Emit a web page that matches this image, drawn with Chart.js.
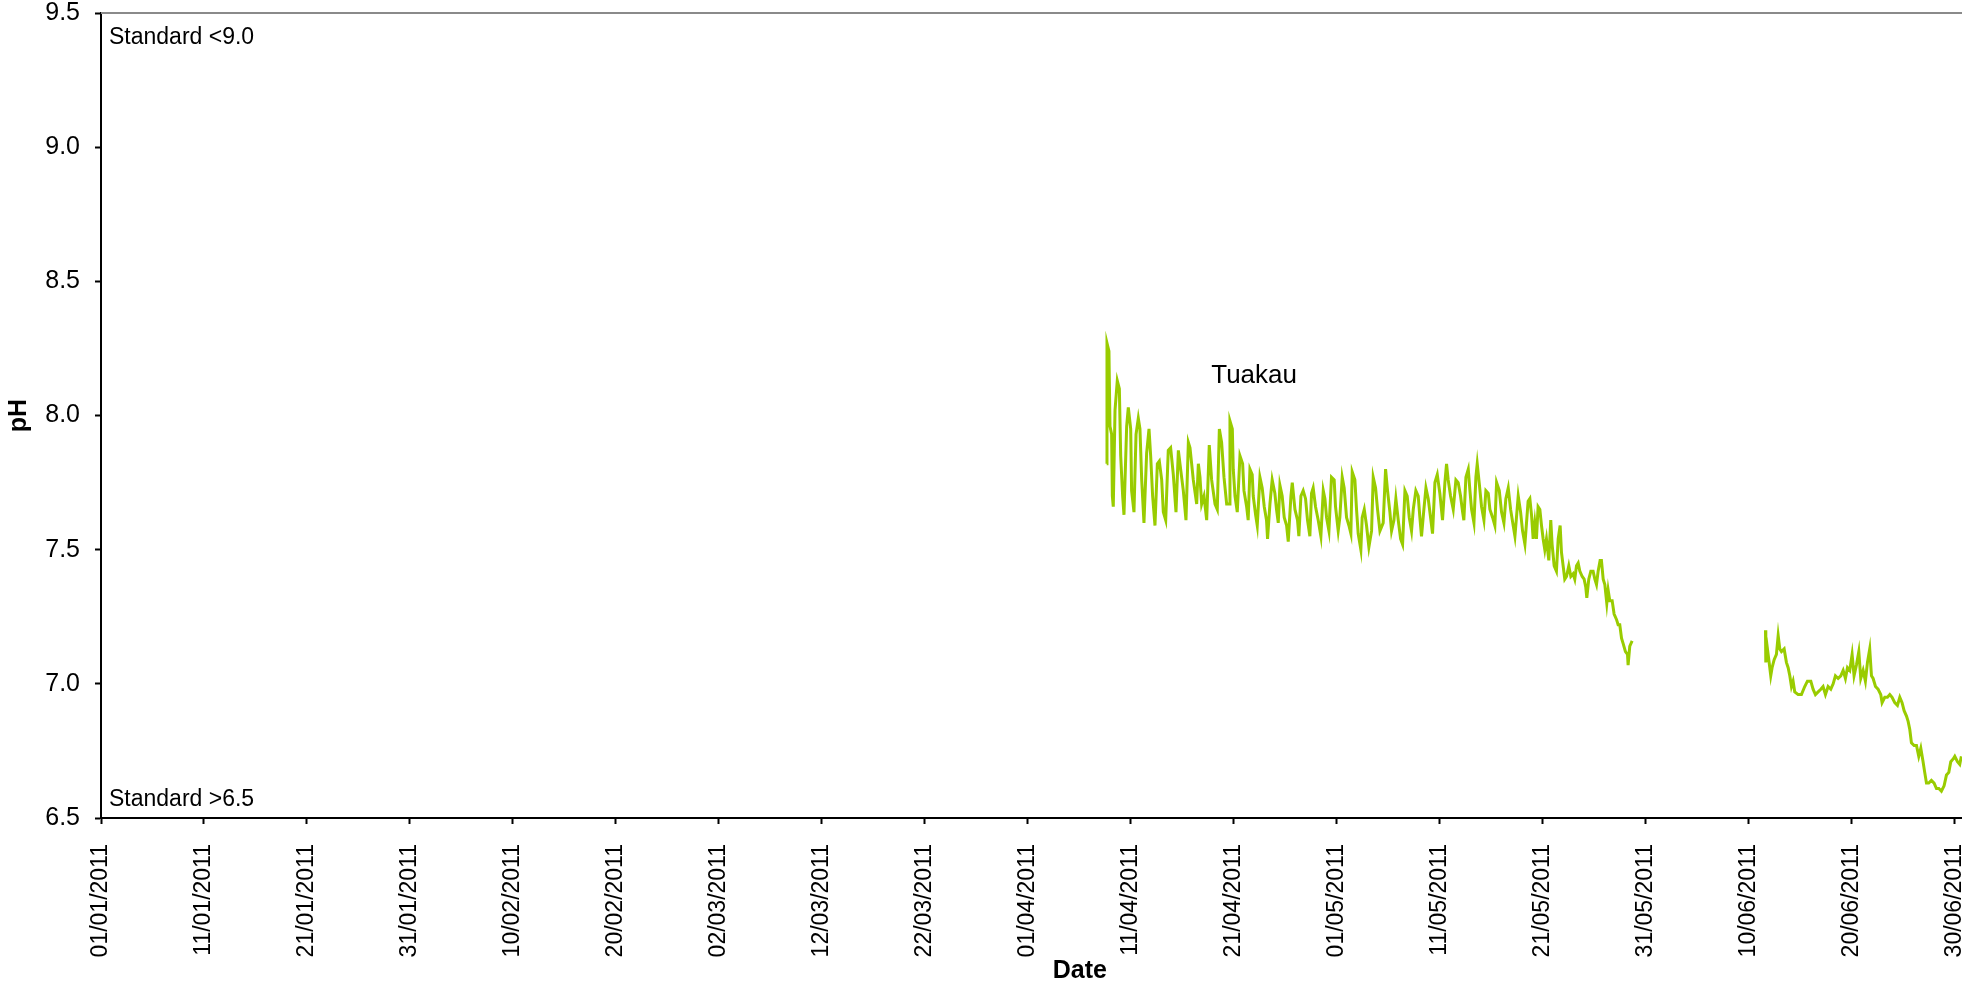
<!DOCTYPE html>
<html>
<head>
<meta charset="utf-8">
<title>Tuakau pH</title>
<script src="https://cdn.jsdelivr.net/npm/chart.js@4.4.1/dist/chart.umd.min.js"></script>
<style>
  html, body { margin: 0; padding: 0; background: #ffffff; overflow: hidden; }
  #wrap { position: relative; width: 1962px; height: 987px; }
</style>
</head>
<body>
<div id="wrap"><canvas id="chart" width="1962" height="987"></canvas></div>
<script>
// Days are counted from 01/01/2011 (day 0); pH readings from the Tuakau sonde.
const tickDays = [0, 10, 20, 30, 40, 50, 60, 70, 80, 90, 100, 110, 120, 130, 140, 150, 160, 170, 180];
const tickLabels = ['01/01/2011', '11/01/2011', '21/01/2011', '31/01/2011', '10/02/2011', '20/02/2011',
  '02/03/2011', '12/03/2011', '22/03/2011', '01/04/2011', '11/04/2011', '21/04/2011', '01/05/2011',
  '11/05/2011', '21/05/2011', '31/05/2011', '10/06/2011', '20/06/2011', '30/06/2011'];
const phTicks = [6.5, 7.0, 7.5, 8.0, 8.5, 9.0, 9.5];

// April - May record
const aprMayDays = [
  97.65, 97.68, 97.87, 97.97, 98.13, 98.20, 98.29, 98.46, 98.68, 98.88, 99.01, 99.20, 99.33, 99.59, 99.75, 99.98,
  100.07, 100.30, 100.50, 100.72, 100.88, 101.05, 101.27, 101.53, 101.76, 101.92, 102.11, 102.34, 102.57, 102.76,
  102.99, 103.15, 103.38, 103.63, 103.86, 104.12, 104.38, 104.61, 104.83, 105.09, 105.35, 105.58, 105.74, 106.06,
  106.39, 106.55, 106.71, 106.87, 107.10, 107.36, 107.61, 107.84, 108.17, 108.39, 108.59, 108.81, 109.04, 109.30,
  109.56, 109.62, 109.85, 109.94, 110.11, 110.33, 110.59, 110.85, 110.98, 111.24,
  111.39, 111.56, 111.78, 111.88, 112.11, 112.27, 112.53, 112.75, 112.95, 113.17, 113.27, 113.50, 113.72, 113.98,
  114.14, 114.31, 114.47, 114.69, 114.89, 115.12, 115.28, 115.54, 115.67, 115.93, 116.18, 116.31, 116.51, 116.73,
  116.96, 117.15, 117.38, 117.54, 117.70, 117.93, 118.19, 118.45, 118.68, 118.84, 119.00, 119.23, 119.48, 119.74,
  119.87, 120.13, 120.29, 120.52, 120.71, 120.94, 121.17, 121.36, 121.49, 121.75, 121.91, 122.07, 122.33, 122.46,
  122.66, 122.88, 123.11, 123.37, 123.53, 123.76, 123.95, 124.18, 124.50, 124.73, 124.92, 125.15, 125.31,
  125.54, 125.73, 125.96, 126.19, 126.38, 126.61, 126.83, 127.03, 127.25, 127.42, 127.67, 127.90, 128.06, 128.22,
  128.45, 128.65, 128.87, 129.10, 129.29, 129.52, 129.75, 130.00, 130.26, 130.49, 130.65, 130.81, 131.04, 131.30,
  131.56, 131.78, 132.01, 132.21, 132.33, 132.53, 132.76, 132.92, 133.08, 133.31, 133.50, 133.63, 133.82, 134.05,
  134.28, 134.47, 134.70, 134.86, 135.12, 135.34, 135.51, 135.77, 135.99, 136.22, 136.41, 136.64, 136.87, 137.12,
  137.29, 137.61, 137.84, 138.03, 138.26,
  138.57, 138.74, 138.90, 139.06, 139.22, 139.38, 139.54, 139.71, 139.87, 140.03, 140.19, 140.35, 140.58, 140.77,
  140.90, 141.10, 141.32, 141.49, 141.68, 141.81, 141.97, 142.13, 142.30, 142.52, 142.72, 142.94, 143.10, 143.27,
  143.43, 143.59, 143.82, 144.01, 144.17, 144.27, 144.46, 144.66, 144.88, 145.05, 145.21, 145.37, 145.56, 145.69,
  145.86, 146.02, 146.21, 146.34, 146.50, 146.73, 146.92, 147.15, 147.31, 147.47, 147.64, 147.80, 148.02, 148.22,
  148.28, 148.44, 148.67
];
const aprMayPh = [
  7.82, 8.27, 8.24, 7.96, 7.93, 7.70, 7.66, 8.02, 8.13, 8.10, 7.85, 7.70, 7.63, 7.96, 8.03, 7.95,
  7.72, 7.64, 7.93, 7.99, 7.95, 7.76, 7.60, 7.86, 7.95, 7.85, 7.70, 7.59, 7.82, 7.83,
  7.76, 7.64, 7.61, 7.87, 7.88, 7.78, 7.64, 7.87, 7.80, 7.72, 7.61, 7.90, 7.88, 7.76,
  7.67, 7.82, 7.77, 7.67, 7.70, 7.61, 7.89, 7.76, 7.67, 7.65, 7.95, 7.90, 7.77, 7.67,
  7.67, 7.98, 7.95, 7.80, 7.70, 7.64, 7.85, 7.82, 7.72, 7.66,
  7.61, 7.80, 7.78, 7.70, 7.63, 7.59, 7.77, 7.73, 7.66, 7.61, 7.54, 7.67, 7.76, 7.71,
  7.65, 7.60, 7.74, 7.70, 7.62, 7.59, 7.53, 7.70, 7.75, 7.65, 7.61, 7.55, 7.70, 7.72,
  7.69, 7.61, 7.55, 7.71, 7.73, 7.66, 7.61, 7.55, 7.72, 7.69, 7.62, 7.57, 7.77, 7.76,
  7.66, 7.57, 7.62, 7.77, 7.73, 7.62, 7.59, 7.56, 7.79, 7.76, 7.65, 7.56, 7.50, 7.62,
  7.65, 7.59, 7.51, 7.57, 7.77, 7.73, 7.65, 7.57, 7.60, 7.80, 7.72, 7.64, 7.57,
  7.61, 7.69, 7.61, 7.54, 7.52, 7.72, 7.70, 7.62, 7.57, 7.65, 7.72, 7.70, 7.62, 7.55,
  7.65, 7.73, 7.69, 7.62, 7.56, 7.75, 7.78, 7.71, 7.61, 7.75, 7.82, 7.76, 7.70, 7.65,
  7.76, 7.75, 7.70, 7.64, 7.61, 7.77, 7.80, 7.72, 7.65, 7.60, 7.77, 7.82, 7.75, 7.66,
  7.61, 7.72, 7.71, 7.65, 7.62, 7.59, 7.75, 7.72, 7.64, 7.60, 7.69, 7.73, 7.65, 7.59,
  7.55, 7.70, 7.64, 7.57, 7.52,
  7.68, 7.69, 7.63, 7.54, 7.60, 7.54, 7.66, 7.65, 7.59, 7.54, 7.50, 7.54, 7.46, 7.61,
  7.52, 7.44, 7.42, 7.54, 7.59, 7.49, 7.44, 7.39, 7.40, 7.44, 7.40, 7.41, 7.39, 7.44,
  7.45, 7.42, 7.40, 7.39, 7.36, 7.32, 7.39, 7.42, 7.42, 7.39, 7.37, 7.42, 7.46, 7.46,
  7.39, 7.37, 7.30, 7.35, 7.31, 7.31, 7.26, 7.24, 7.22, 7.22, 7.17, 7.15, 7.12, 7.11,
  7.07, 7.14, 7.16
];

// June record (after the sonde was back in service)
const juneDays = [
  161.62, 161.65, 161.81, 161.94, 162.13, 162.26, 162.46, 162.68, 162.85, 163.01, 163.17, 163.43, 163.65, 163.82,
  163.98, 164.14, 164.30, 164.46, 164.79, 165.11, 165.43, 165.69, 166.02, 166.24, 166.47, 166.73, 166.99, 167.21,
  167.44, 167.70, 167.96, 168.19, 168.41, 168.67, 168.93, 169.16, 169.38, 169.58, 169.80, 170.03, 170.22, 170.45,
  170.68, 170.87, 171.10, 171.32, 171.52, 171.74, 171.91, 172.07, 172.30, 172.55, 172.81, 172.94, 173.20, 173.46,
  173.69, 173.91, 174.17, 174.43, 174.66, 174.88, 175.08, 175.31, 175.47, 175.63, 175.79, 176.05, 176.28, 176.50,
  176.70, 176.92, 177.08, 177.25, 177.47, 177.73, 177.99, 178.22, 178.45, 178.70, 178.96, 179.19, 179.42, 179.61,
  179.84, 180.00, 180.26, 180.48, 180.64
];
const junePh = [
  7.20, 7.08, 7.13, 7.09, 7.03, 7.06, 7.09, 7.11, 7.18, 7.13, 7.12, 7.13, 7.08, 7.06,
  7.03, 6.99, 7.01, 6.97, 6.96, 6.96, 6.99, 7.01, 7.01, 6.98, 6.96, 6.97, 6.98, 6.99,
  6.96, 6.99, 6.98, 7.00, 7.03, 7.02, 7.03, 7.05, 7.02, 7.06, 7.05, 7.11, 7.03, 7.07,
  7.12, 7.02, 7.05, 7.01, 7.08, 7.13, 7.03, 7.02, 6.99, 6.98, 6.96, 6.93, 6.95, 6.95,
  6.96, 6.95, 6.93, 6.92, 6.95, 6.93, 6.90, 6.88, 6.86, 6.83, 6.78, 6.77, 6.77, 6.73,
  6.76, 6.71, 6.67, 6.63, 6.63, 6.64, 6.63, 6.61, 6.61, 6.60, 6.62, 6.66, 6.67, 6.71,
  6.72, 6.73, 6.71, 6.70, 6.73
];

const FONT = "'Liberation Sans', Arial, Helvetica, sans-serif";

// One series, with a null point so the line breaks over the outage.
const series = aprMayDays.map((d, i) => ({ x: d, y: aprMayPh[i] }))
  .concat([{ x: 155, y: null }])
  .concat(juneDays.map((d, i) => ({ x: d, y: junePh[i] })));

const textLayer = {
  id: 'textLayer',
  afterDraw(chart) {
    const { ctx, chartArea: a, scales } = chart;
    ctx.save();
    // grey frame line along the top of the plot
    ctx.strokeStyle = '#8a8a8a';
    ctx.lineWidth = 2;
    ctx.beginPath();
    ctx.moveTo(a.left, a.top);
    ctx.lineTo(a.right, a.top);
    ctx.stroke();

    ctx.fillStyle = '#000';
    ctx.textBaseline = 'alphabetic';
    ctx.textAlign = 'left';
    ctx.font = '23px ' + FONT;
    ctx.fillText('Standard <9.0', a.left + 8, a.top + 31);
    ctx.fillText('Standard >6.5', a.left + 8, a.bottom - 12);

    ctx.font = '26px ' + FONT;
    ctx.fillText('Tuakau', scales.x.getPixelForValue(107.8), scales.y.getPixelForValue(8.12));

    ctx.font = 'bold 25px ' + FONT;
    ctx.textAlign = 'center';
    ctx.textBaseline = 'middle';
    ctx.fillText('Date', a.left + (a.right - a.left) * 0.526, chart.height - 16);
    ctx.restore();
  }
};

new Chart(document.getElementById('chart'), {
  type: 'line',
  data: {
    datasets: [{
      label: 'Tuakau',
      data: series,
      borderColor: '#99cc00',
      borderWidth: 3,
      pointRadius: 0,
      tension: 0,
      spanGaps: false
    }]
  },
  options: {
    responsive: false,
    animation: false,
    devicePixelRatio: 1,
    layout: { padding: { top: 13, right: 0, bottom: 0, left: 0 } },
    plugins: { legend: { display: false }, tooltip: { enabled: false } },
    scales: {
      x: {
        type: 'linear',
        min: 0,
        max: 180.7,
        afterBuildTicks(scale) { scale.ticks = tickDays.map(v => ({ value: v })); },
        afterFit(scale) { scale.height = 169; scale.paddingLeft = 0; scale.paddingRight = 0; },
        ticks: {
          autoSkip: false,
          minRotation: 90,
          maxRotation: 90,
          padding: 20,
          color: '#000',
          font: { family: FONT, size: 23 },
          callback(value, index) { return tickLabels[index]; }
        },
        grid: { display: true, drawOnChartArea: false, drawTicks: true, tickLength: 6, tickColor: '#000', tickWidth: 2 },
        border: { display: true, color: '#000', width: 2 }
      },
      y: {
        min: 6.5,
        max: 9.5,
        afterBuildTicks(scale) { scale.ticks = phTicks.map(v => ({ value: v })); },
        afterFit(scale) { scale.width = 101; scale.paddingTop = 0; scale.paddingBottom = 0; },
        ticks: {
          padding: 15,
          color: '#000',
          font: { family: FONT, size: 25 },
          callback(value) { return Number(value).toFixed(1); }
        },
        title: {
          display: true,
          text: 'pH',
          color: '#000',
          font: { family: FONT, size: 25, weight: 'bold' },
          padding: { top: 4, bottom: 0 }
        },
        grid: { display: true, drawOnChartArea: false, drawTicks: true, tickLength: 6, tickColor: '#000', tickWidth: 2 },
        border: { display: true, color: '#000', width: 2 }
      }
    }
  },
  plugins: [textLayer]
});
</script>
</body>
</html>
